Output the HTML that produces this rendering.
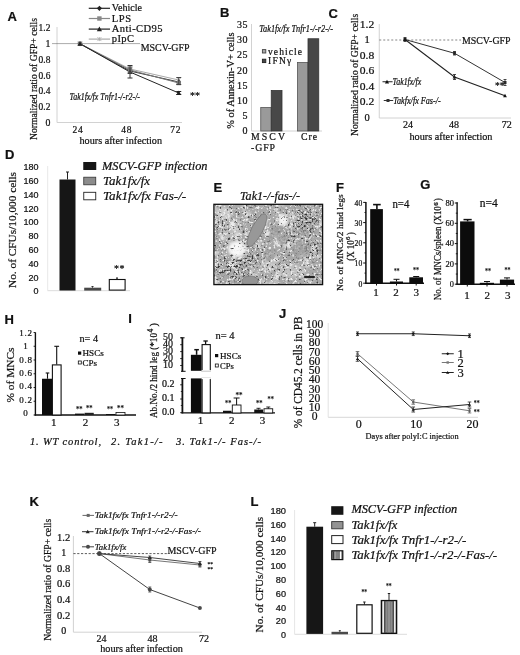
<!DOCTYPE html>
<html><head><meta charset="utf-8"><title>Figure</title>
<style>
html,body{margin:0;padding:0;background:#fff;}
svg{display:block;font-family:"Liberation Serif","DejaVu Serif",serif;fill:#111;}
svg text{fill:#111;stroke:#111;stroke-width:0.22px;}
</style></head>
<body>
<svg width="520" height="655" viewBox="0 0 520 655">
<defs>
<filter id="noise" x="0" y="0" width="100%" height="100%" color-interpolation-filters="sRGB">
<feTurbulence type="fractalNoise" baseFrequency="0.42" numOctaves="2" seed="11" result="n"/>
<feTurbulence type="fractalNoise" baseFrequency="0.1" numOctaves="2" seed="5" result="n2"/>
<feColorMatrix in="n2" type="matrix" values="0 0 0 0 0.93  0 0 0 0 0.93  0 0 0 0 0.93  0 0 3.5 0 -1.95" result="mt"/>
<feColorMatrix in="n" type="matrix" values="0 0 0 0 0.27  0 0 0 0 0.27  0 0 0 0 0.27  6 0 0 0 -3.65" result="dk"/>
<feColorMatrix in="n" type="matrix" values="0 0 0 0 0.93  0 0 0 0 0.93  0 0 0 0 0.93  0 5 0 0 -2.62" result="lt"/>
<feMerge><feMergeNode in="mt"/><feMergeNode in="lt"/><feMergeNode in="dk"/></feMerge>
</filter>
<filter id="spk" x="213" y="203" width="111" height="83" filterUnits="userSpaceOnUse" color-interpolation-filters="sRGB">
<feTurbulence type="fractalNoise" baseFrequency="0.5" numOctaves="2" seed="23" result="n"/>
<feColorMatrix in="n" type="matrix" values="0 0 0 0 0.2  0 0 0 0 0.2  0 0 0 0 0.2  6 0 0 0 -3.3" result="dk"/>
<feComposite in="dk" in2="SourceAlpha" operator="in"/>
</filter>
<clipPath id="eclip"><rect x="214" y="204.3" width="108.6" height="80.3"/></clipPath>
<filter id="blur"><feGaussianBlur stdDeviation="1.5"/></filter><filter id="blur2"><feGaussianBlur stdDeviation="0.45"/></filter>
<pattern id="stripes" width="4" height="4" patternUnits="userSpaceOnUse"><rect width="4" height="4" fill="#d0d0d0"/><rect width="2" height="4" fill="#555"/></pattern>
<pattern id="stripes2" width="3.2" height="4" patternUnits="userSpaceOnUse"><rect width="3.2" height="4" fill="#d0d0d0"/><rect width="1.6" height="4" fill="#555"/></pattern>
</defs>
<rect width="520" height="655" fill="#fff"/>
<text x="7.50" y="21.18" font-size="13" font-weight="bold" font-family='"Liberation Sans","DejaVu Sans",sans-serif' fill="#000" stroke="#000" stroke-width="0.45">A</text>
<text transform="translate(36.87,140.00) rotate(-90)" font-size="10.5" textLength="122.00" lengthAdjust="spacingAndGlyphs">Normalized ratio of GFP+ cells</text>
<text x="38.60" y="31.30" font-size="9.8" textLength="11.80" lengthAdjust="spacingAndGlyphs">1.2</text>
<text x="45.40" y="47.05" font-size="9.8">1</text>
<text x="38.60" y="62.80" font-size="9.8" textLength="11.80" lengthAdjust="spacingAndGlyphs">0.8</text>
<text x="38.60" y="78.55" font-size="9.8" textLength="11.80" lengthAdjust="spacingAndGlyphs">0.6</text>
<text x="38.60" y="94.30" font-size="9.8" textLength="11.80" lengthAdjust="spacingAndGlyphs">0.4</text>
<text x="38.60" y="110.05" font-size="9.8" textLength="11.80" lengthAdjust="spacingAndGlyphs">0.2</text>
<text x="45.40" y="125.80" font-size="9.8">0</text>
<line x1="57.00" y1="27.00" x2="57.00" y2="122.50" stroke="#d2d2d2" stroke-width="1"/>
<line x1="57.00" y1="122.50" x2="182.00" y2="122.50" stroke="#d2d2d2" stroke-width="1"/>
<line x1="52.50" y1="43.60" x2="140.00" y2="43.60" stroke="#444" stroke-width="0.9" stroke-dasharray="1,1"/>
<polyline points="80.00,43.75 130.00,69.00 178.75,80.00" fill="none" stroke="#aaa" stroke-width="1"/>
<polyline points="80.00,43.75 130.00,71.00 178.75,82.00" fill="none" stroke="#333" stroke-width="1"/>
<polyline points="80.00,43.75 130.00,70.00 178.75,83.00" fill="none" stroke="#777" stroke-width="1"/>
<polyline points="80.00,43.75 130.00,72.00 178.75,93.00" fill="none" stroke="#222" stroke-width="1"/>
<line x1="78.00" y1="41.75" x2="82.00" y2="45.75" stroke="#aaa" stroke-width="0.8"/>
<line x1="78.00" y1="45.75" x2="82.00" y2="41.75" stroke="#aaa" stroke-width="0.8"/>
<line x1="80.00" y1="41.75" x2="80.00" y2="45.75" stroke="#aaa" stroke-width="0.8"/>
<line x1="128.00" y1="67.00" x2="132.00" y2="71.00" stroke="#aaa" stroke-width="0.8"/>
<line x1="128.00" y1="71.00" x2="132.00" y2="67.00" stroke="#aaa" stroke-width="0.8"/>
<line x1="130.00" y1="67.00" x2="130.00" y2="71.00" stroke="#aaa" stroke-width="0.8"/>
<line x1="176.75" y1="78.00" x2="180.75" y2="82.00" stroke="#aaa" stroke-width="0.8"/>
<line x1="176.75" y1="82.00" x2="180.75" y2="78.00" stroke="#aaa" stroke-width="0.8"/>
<line x1="178.75" y1="78.00" x2="178.75" y2="82.00" stroke="#aaa" stroke-width="0.8"/>
<polygon points="80.00,41.35 77.60,43.75 80.00,46.15 82.40,43.75" fill="#333"/>
<polygon points="130.00,68.60 127.60,71.00 130.00,73.40 132.40,71.00" fill="#333"/>
<polygon points="178.75,79.60 176.35,82.00 178.75,84.40 181.15,82.00" fill="#333"/>
<rect x="77.80" y="41.55" width="4.40" height="4.40" fill="#777"/>
<rect x="127.80" y="67.80" width="4.40" height="4.40" fill="#777"/>
<rect x="176.55" y="80.80" width="4.40" height="4.40" fill="#777"/>
<polygon points="80.00,41.25 77.50,45.75 82.50,45.75" fill="#222"/>
<polygon points="130.00,69.50 127.50,74.00 132.50,74.00" fill="#222"/>
<polygon points="178.75,90.50 176.25,95.00 181.25,95.00" fill="#222"/>
<line x1="130.00" y1="65.50" x2="130.00" y2="78.00" stroke="#333" stroke-width="1"/>
<line x1="127.50" y1="65.50" x2="132.50" y2="65.50" stroke="#333" stroke-width="1"/>
<line x1="127.50" y1="78.00" x2="132.50" y2="78.00" stroke="#333" stroke-width="1"/>
<line x1="130.00" y1="67.00" x2="130.00" y2="73.00" stroke="#555" stroke-width="1"/>
<line x1="127.50" y1="67.00" x2="132.50" y2="67.00" stroke="#555" stroke-width="1"/>
<line x1="127.50" y1="73.00" x2="132.50" y2="73.00" stroke="#555" stroke-width="1"/>
<line x1="178.75" y1="77.50" x2="178.75" y2="84.50" stroke="#444" stroke-width="1"/>
<line x1="176.25" y1="77.50" x2="181.25" y2="77.50" stroke="#444" stroke-width="1"/>
<line x1="176.25" y1="84.50" x2="181.25" y2="84.50" stroke="#444" stroke-width="1"/>
<line x1="178.75" y1="91.50" x2="178.75" y2="94.50" stroke="#222" stroke-width="1"/>
<line x1="176.25" y1="91.50" x2="181.25" y2="91.50" stroke="#222" stroke-width="1"/>
<line x1="176.25" y1="94.50" x2="181.25" y2="94.50" stroke="#222" stroke-width="1"/>
<line x1="88.75" y1="8.30" x2="110.00" y2="8.30" stroke="#222" stroke-width="1.2"/>
<polygon points="99.40,5.70 96.80,8.30 99.40,10.90 102.00,8.30" fill="#222"/>
<text x="111.75" y="11.40" font-size="10.5" textLength="30.25" lengthAdjust="spacingAndGlyphs">Vehicle</text>
<line x1="88.75" y1="18.50" x2="110.00" y2="18.50" stroke="#888" stroke-width="1.2"/>
<rect x="97.20" y="16.30" width="4.40" height="4.40" fill="#888"/>
<text x="111.75" y="21.60" font-size="10.5" textLength="19.25" lengthAdjust="spacing">LPS</text>
<line x1="88.75" y1="29.10" x2="110.00" y2="29.10" stroke="#222" stroke-width="1.2"/>
<polygon points="99.40,26.50 96.80,31.18 102.00,31.18" fill="#222"/>
<text x="111.75" y="32.20" font-size="10.5" textLength="50.75" lengthAdjust="spacing">Anti-CD95</text>
<line x1="88.75" y1="39.10" x2="110.00" y2="39.10" stroke="#aaa" stroke-width="1.2"/>
<line x1="97.40" y1="37.10" x2="101.40" y2="41.10" stroke="#aaa" stroke-width="0.8"/>
<line x1="97.40" y1="41.10" x2="101.40" y2="37.10" stroke="#aaa" stroke-width="0.8"/>
<line x1="99.40" y1="37.10" x2="99.40" y2="41.10" stroke="#aaa" stroke-width="0.8"/>
<text x="111.75" y="42.20" font-size="10.5" textLength="22.25" lengthAdjust="spacing">pIpC</text>
<text x="140.75" y="50.60" font-size="10.5" textLength="48.75" lengthAdjust="spacingAndGlyphs">MSCV-GFP</text>
<text x="69.50" y="100.00" font-size="9.5" textLength="70.50" lengthAdjust="spacingAndGlyphs" font-style="italic">Tak1fx/fx Tnfr1-/-r2-/-</text>
<text x="190.00" y="99.00" font-size="10" textLength="10.00" lengthAdjust="spacingAndGlyphs" fill="#777" stroke="#777">**</text>
<text x="78.00" y="132.50" font-size="9.5" text-anchor="middle" letter-spacing="0.8">24</text>
<text x="126.75" y="132.50" font-size="9.5" text-anchor="middle" letter-spacing="0.8">48</text>
<text x="175.80" y="132.50" font-size="9.5" text-anchor="middle" letter-spacing="0.8">72</text>
<text x="79.50" y="144.20" font-size="10.5" textLength="82.50" lengthAdjust="spacingAndGlyphs">hours after infection</text>
<text x="220.00" y="16.68" font-size="13" font-weight="bold" font-family='"Liberation Sans","DejaVu Sans",sans-serif' fill="#000" stroke="#000" stroke-width="0.45">B</text>
<text transform="translate(234.47,128.75) rotate(-90)" font-size="10.5" textLength="96.25" lengthAdjust="spacingAndGlyphs">% of Annexin-V+ cells</text>
<text x="248.00" y="134.30" font-size="10" text-anchor="end" letter-spacing="0.5">0</text>
<text x="248.00" y="119.10" font-size="10" text-anchor="end" letter-spacing="0.5">5</text>
<text x="248.00" y="103.90" font-size="10" text-anchor="end" letter-spacing="0.5">10</text>
<text x="248.00" y="88.70" font-size="10" text-anchor="end" letter-spacing="0.5">15</text>
<text x="248.00" y="73.50" font-size="10" text-anchor="end" letter-spacing="0.5">20</text>
<text x="248.00" y="58.30" font-size="10" text-anchor="end" letter-spacing="0.5">25</text>
<text x="248.00" y="43.10" font-size="10" text-anchor="end" letter-spacing="0.5">30</text>
<text x="248.00" y="27.90" font-size="10" text-anchor="end" letter-spacing="0.5">35</text>
<line x1="251.50" y1="24.00" x2="251.50" y2="131.00" stroke="#d2d2d2" stroke-width="1"/>
<line x1="251.50" y1="131.00" x2="322.00" y2="131.00" stroke="#d2d2d2" stroke-width="1"/>
<rect x="260.75" y="107.50" width="10.50" height="23.50" fill="#9a9a9a" stroke="#555" stroke-width="0.8"/>
<rect x="271.25" y="90.50" width="10.75" height="40.50" fill="#484848" stroke="#333" stroke-width="0.8"/>
<rect x="297.50" y="62.50" width="10.50" height="68.50" fill="#9a9a9a" stroke="#555" stroke-width="0.8"/>
<rect x="308.00" y="38.75" width="10.75" height="92.25" fill="#484848" stroke="#333" stroke-width="0.8"/>
<rect x="262.40" y="49.60" width="3.40" height="3.40" fill="#a8a8a8" stroke="#444" stroke-width="0.9"/>
<rect x="262.40" y="59.20" width="3.40" height="3.40" fill="#484848" stroke="#222" stroke-width="0.9"/>
<text x="268.00" y="54.60" font-size="9.5" textLength="34.00" lengthAdjust="spacing">vehicle</text>
<text x="268.00" y="64.20" font-size="9.5" textLength="23.30" lengthAdjust="spacing">IFNγ</text>
<text x="259.20" y="31.60" font-size="10" textLength="73.80" lengthAdjust="spacingAndGlyphs" font-style="italic">Tak1fx/fx Tnfr1-/-r2-/-</text>
<text x="251.00" y="140.30" font-size="9.8" textLength="34.00" lengthAdjust="spacing">MSCV</text>
<text x="251.00" y="150.80" font-size="9.8" textLength="24.00" lengthAdjust="spacing">-GFP</text>
<text x="301.00" y="140.30" font-size="9.8" textLength="16.00" lengthAdjust="spacing">Cre</text>
<text x="328.50" y="18.18" font-size="13" font-weight="bold" font-family='"Liberation Sans","DejaVu Sans",sans-serif' fill="#000" stroke="#000" stroke-width="0.45">C</text>
<text transform="translate(358.46,136.00) rotate(-90)" font-size="10.5" textLength="122.25" lengthAdjust="spacingAndGlyphs">Normalized ratio of GFP+ cells</text>
<text x="359.75" y="27.60" font-size="10.5" textLength="14.50" lengthAdjust="spacingAndGlyphs">1.2</text>
<text x="364.40" y="43.15" font-size="10.5">1</text>
<text x="359.75" y="58.70" font-size="10.5" textLength="14.50" lengthAdjust="spacingAndGlyphs">0.8</text>
<text x="359.75" y="74.25" font-size="10.5" textLength="14.50" lengthAdjust="spacingAndGlyphs">0.6</text>
<text x="359.75" y="89.80" font-size="10.5" textLength="14.50" lengthAdjust="spacingAndGlyphs">0.4</text>
<text x="359.75" y="105.35" font-size="10.5" textLength="14.50" lengthAdjust="spacingAndGlyphs">0.2</text>
<text x="364.40" y="120.90" font-size="10.5">0</text>
<line x1="379.25" y1="24.00" x2="379.25" y2="118.00" stroke="#d2d2d2" stroke-width="1"/>
<line x1="379.25" y1="118.00" x2="511.00" y2="118.00" stroke="#d2d2d2" stroke-width="1"/>
<line x1="379.25" y1="40.00" x2="461.00" y2="40.00" stroke="#666" stroke-width="0.8" stroke-dasharray="2,2"/>
<polyline points="405.00,39.50 454.50,53.25 505.00,82.50" fill="none" stroke="#333" stroke-width="1"/>
<polyline points="405.00,39.50 454.50,77.00 505.00,95.75" fill="none" stroke="#222" stroke-width="1.1"/>
<rect x="403.50" y="38.00" width="3.00" height="3.00" fill="#333"/>
<rect x="453.00" y="51.75" width="3.00" height="3.00" fill="#333"/>
<rect x="503.50" y="81.00" width="3.00" height="3.00" fill="#333"/>
<polygon points="405.00,37.60 403.10,41.02 406.90,41.02" fill="#111"/>
<polygon points="454.50,75.10 452.60,78.52 456.40,78.52" fill="#111"/>
<polygon points="505.00,93.85 503.10,97.27 506.90,97.27" fill="#111"/>
<line x1="405.00" y1="37.50" x2="405.00" y2="41.50" stroke="#222" stroke-width="0.8"/>
<line x1="403.50" y1="37.50" x2="406.50" y2="37.50" stroke="#222" stroke-width="0.8"/>
<line x1="403.50" y1="41.50" x2="406.50" y2="41.50" stroke="#222" stroke-width="0.8"/>
<line x1="454.50" y1="51.50" x2="454.50" y2="55.00" stroke="#222" stroke-width="0.8"/>
<line x1="453.00" y1="51.50" x2="456.00" y2="51.50" stroke="#222" stroke-width="0.8"/>
<line x1="453.00" y1="55.00" x2="456.00" y2="55.00" stroke="#222" stroke-width="0.8"/>
<line x1="454.50" y1="74.50" x2="454.50" y2="79.50" stroke="#222" stroke-width="0.8"/>
<line x1="453.00" y1="74.50" x2="456.00" y2="74.50" stroke="#222" stroke-width="0.8"/>
<line x1="453.00" y1="79.50" x2="456.00" y2="79.50" stroke="#222" stroke-width="0.8"/>
<line x1="505.00" y1="79.50" x2="505.00" y2="85.50" stroke="#222" stroke-width="0.8"/>
<line x1="503.50" y1="79.50" x2="506.50" y2="79.50" stroke="#222" stroke-width="0.8"/>
<line x1="503.50" y1="85.50" x2="506.50" y2="85.50" stroke="#222" stroke-width="0.8"/>
<text x="462.00" y="43.60" font-size="10.5" textLength="48.50" lengthAdjust="spacingAndGlyphs">MSCV-GFP</text>
<text x="495.00" y="89.30" font-size="10" textLength="9.50" lengthAdjust="spacingAndGlyphs" fill="#888" stroke="#888">**</text>
<line x1="382.50" y1="81.75" x2="392.60" y2="81.75" stroke="#222" stroke-width="1"/>
<polygon points="387.00,79.65 384.90,83.43 389.10,83.43" fill="#111"/>
<text x="392.50" y="84.80" font-size="9.5" textLength="28.75" lengthAdjust="spacingAndGlyphs" font-style="italic">Tak1fx/fx</text>
<line x1="383.75" y1="100.50" x2="393.20" y2="100.50" stroke="#333" stroke-width="1"/>
<rect x="386.50" y="99.00" width="3.00" height="3.00" fill="#333"/>
<text x="393.25" y="103.50" font-size="9.5" textLength="47.50" lengthAdjust="spacingAndGlyphs" font-style="italic">Takfx/fx Fas-/-</text>
<text x="408.00" y="127.60" font-size="10" text-anchor="middle">24</text>
<text x="454.00" y="127.60" font-size="10" text-anchor="middle">48</text>
<text x="506.75" y="127.60" font-size="10" text-anchor="middle">72</text>
<text x="409.50" y="140.30" font-size="10.5" textLength="83.00" lengthAdjust="spacingAndGlyphs">hours after infection</text>
<text x="5.00" y="159.18" font-size="13" font-weight="bold" font-family='"Liberation Sans","DejaVu Sans",sans-serif' fill="#000" stroke="#000" stroke-width="0.45">D</text>
<text transform="translate(15.63,288.00) rotate(-90)" font-size="11" textLength="116.00" lengthAdjust="spacingAndGlyphs">No. of CFUs/10,000 cells</text>
<text x="33.40" y="294.35" font-size="8.8" textLength="5.00" lengthAdjust="spacingAndGlyphs" font-family='"Liberation Sans","DejaVu Sans",sans-serif'>0</text>
<text x="28.40" y="280.55" font-size="8.8" textLength="10.00" lengthAdjust="spacingAndGlyphs" font-family='"Liberation Sans","DejaVu Sans",sans-serif'>20</text>
<text x="28.40" y="266.75" font-size="8.8" textLength="10.00" lengthAdjust="spacingAndGlyphs" font-family='"Liberation Sans","DejaVu Sans",sans-serif'>40</text>
<text x="28.40" y="252.95" font-size="8.8" textLength="10.00" lengthAdjust="spacingAndGlyphs" font-family='"Liberation Sans","DejaVu Sans",sans-serif'>60</text>
<text x="28.40" y="239.15" font-size="8.8" textLength="10.00" lengthAdjust="spacingAndGlyphs" font-family='"Liberation Sans","DejaVu Sans",sans-serif'>80</text>
<text x="23.40" y="225.35" font-size="8.8" textLength="15.00" lengthAdjust="spacingAndGlyphs" font-family='"Liberation Sans","DejaVu Sans",sans-serif'>100</text>
<text x="23.40" y="211.55" font-size="8.8" textLength="15.00" lengthAdjust="spacingAndGlyphs" font-family='"Liberation Sans","DejaVu Sans",sans-serif'>120</text>
<text x="23.40" y="197.75" font-size="8.8" textLength="15.00" lengthAdjust="spacingAndGlyphs" font-family='"Liberation Sans","DejaVu Sans",sans-serif'>140</text>
<text x="23.40" y="183.95" font-size="8.8" textLength="15.00" lengthAdjust="spacingAndGlyphs" font-family='"Liberation Sans","DejaVu Sans",sans-serif'>160</text>
<text x="23.40" y="170.15" font-size="8.8" textLength="15.00" lengthAdjust="spacingAndGlyphs" font-family='"Liberation Sans","DejaVu Sans",sans-serif'>180</text>
<line x1="47.50" y1="290.70" x2="130.00" y2="290.70" stroke="#dcdcdc" stroke-width="1"/>
<line x1="47.70" y1="166.00" x2="47.70" y2="290.70" stroke="#e8e8e8" stroke-width="1"/>
<rect x="59.50" y="179.50" width="16.00" height="111.00" fill="#161616"/>
<line x1="67.50" y1="172.00" x2="67.50" y2="179.50" stroke="#222" stroke-width="1"/>
<line x1="66.00" y1="172.00" x2="69.00" y2="172.00" stroke="#222" stroke-width="1"/>
<rect x="84.20" y="287.70" width="17.00" height="2.90" fill="#484848"/>
<line x1="92.50" y1="286.50" x2="92.50" y2="287.70" stroke="#333" stroke-width="1"/>
<line x1="91.50" y1="286.50" x2="93.50" y2="286.50" stroke="#333" stroke-width="1"/>
<rect x="109.30" y="279.50" width="15.80" height="10.60" fill="#fff" stroke="#111" stroke-width="1.1"/>
<line x1="117.00" y1="278.00" x2="117.00" y2="279.50" stroke="#222" stroke-width="1"/>
<line x1="116.00" y1="278.00" x2="118.00" y2="278.00" stroke="#222" stroke-width="1"/>
<text x="114.00" y="271.50" font-size="10" textLength="10.60" lengthAdjust="spacing" fill="#777" stroke="#777">**</text>
<rect x="83.25" y="162.00" width="13.00" height="8.00" fill="#161616"/>
<rect x="83.75" y="177.20" width="12.00" height="7.60" fill="#8c8c8c" stroke="#333" stroke-width="0.8"/>
<rect x="83.75" y="192.30" width="12.00" height="7.50" fill="#fff" stroke="#222" stroke-width="0.9"/>
<text x="102.00" y="170.00" font-size="12.2" textLength="105.50" lengthAdjust="spacingAndGlyphs" font-style="italic">MSCV-GFP infection</text>
<text x="103.00" y="185.00" font-size="12.2" textLength="47.00" lengthAdjust="spacingAndGlyphs" font-style="italic">Tak1fx/fx</text>
<text x="103.00" y="200.00" font-size="12.2" textLength="83.25" lengthAdjust="spacingAndGlyphs" font-style="italic">Tak1fx/fx Fas-/-</text>
<text x="213.50" y="192.18" font-size="13" font-weight="bold" font-family='"Liberation Sans","DejaVu Sans",sans-serif' fill="#000" stroke="#000" stroke-width="0.45">E</text>
<text x="240.00" y="200.00" font-size="12.5" textLength="60.00" lengthAdjust="spacingAndGlyphs" font-style="italic">Tak1-/-fas-/-</text>
<g clip-path="url(#eclip)"><rect x="213" y="203" width="111" height="83" fill="#a8a8a8"/><g filter="url(#blur)"><ellipse cx="237" cy="249" rx="9" ry="8" fill="#f8f8f8"/><ellipse cx="224" cy="214" rx="8" ry="7" fill="#cccccc"/><ellipse cx="283" cy="220" rx="5" ry="6" fill="#f4f4f4"/><ellipse cx="232" cy="232" rx="10" ry="8" fill="#bcbcbc"/><ellipse cx="292" cy="271" rx="14" ry="7" fill="#c0c0c0"/><ellipse cx="268" cy="266" rx="8" ry="6" fill="#c4c4c4"/></g><rect x="213" y="203" width="111" height="83" fill="#fff" filter="url(#noise)"/><g filter="url(#spk)"><g filter="url(#blur)"><path d="M215 262 Q236 262 258 252 L262 258 Q240 272 216 276 Z" fill="#000"/><ellipse cx="306" cy="222" rx="12" ry="12" fill="#000"/><ellipse cx="290" cy="238" rx="8" ry="6" fill="#000"/><ellipse cx="312" cy="250" rx="7" ry="9" fill="#000"/><ellipse cx="240" cy="276" rx="10" ry="5" fill="#000"/><ellipse cx="222" cy="226" rx="5" ry="8" fill="#000"/></g></g><g filter="url(#blur2)"><path d="M262 214 Q267 213 267 218 Q265 232 252 246 Q247 248 247 242 Q250 226 262 214 Z" fill="#989898" stroke="#6e6e6e" stroke-width="0.7"/><ellipse cx="250" cy="281" rx="8" ry="5" fill="#949494" stroke="#707070" stroke-width="0.6"/><g opacity="0.6"><path d="M270 230 Q278 224 285 227 L282 232 Q274 236 268 245 Z" fill="#9a9a9a"/><path d="M292 246 Q304 240 311 247 Q306 260 297 260 Q292 254 292 246 Z" fill="#9c9c9c"/><path d="M264 251 Q272 246 279 251 Q275 259 267 261 Z" fill="#9e9e9e"/><path d="M276 236 Q284 232 290 238 Q284 246 278 244 Z" fill="#a0a0a0"/><ellipse cx="303" cy="232" rx="6" ry="4" fill="#9e9e9e"/></g></g></g>
<rect x="213.90" y="204.30" width="108.70" height="80.30" fill="none" stroke="#111" stroke-width="1.3"/>
<rect x="304.20" y="276.00" width="10.60" height="2.00" fill="#222"/>
<text x="336.00" y="191.98" font-size="13" font-weight="bold" font-family='"Liberation Sans","DejaVu Sans",sans-serif' fill="#000" stroke="#000" stroke-width="0.45">F</text>
<text transform="translate(342.57,291.00) rotate(-90)" font-size="9" textLength="96.70" lengthAdjust="spacingAndGlyphs">No. of MNCs/2 hind legs</text>
<text transform="translate(353.6,260.8) rotate(-90)" font-size="9.5" textLength="20.5" lengthAdjust="spacingAndGlyphs">(X 10</text>
<text transform="translate(349.6,240) rotate(-90)" font-size="6.8">6</text>
<text transform="translate(353.6,235.2) rotate(-90)" font-size="9.5">)</text>
<text x="358.40" y="286.60" font-size="7.7">0</text>
<line x1="363.20" y1="283.20" x2="366.00" y2="283.20" stroke="#111" stroke-width="1"/>
<line x1="364.50" y1="273.10" x2="366.00" y2="273.10" stroke="#111" stroke-width="0.9"/>
<text x="354.60" y="266.40" font-size="7.7" textLength="7.60" lengthAdjust="spacingAndGlyphs">10</text>
<line x1="363.20" y1="263.00" x2="366.00" y2="263.00" stroke="#111" stroke-width="1"/>
<line x1="364.50" y1="252.90" x2="366.00" y2="252.90" stroke="#111" stroke-width="0.9"/>
<text x="354.60" y="246.20" font-size="7.7" textLength="7.60" lengthAdjust="spacingAndGlyphs">20</text>
<line x1="363.20" y1="242.80" x2="366.00" y2="242.80" stroke="#111" stroke-width="1"/>
<line x1="364.50" y1="232.70" x2="366.00" y2="232.70" stroke="#111" stroke-width="0.9"/>
<text x="354.60" y="226.00" font-size="7.7" textLength="7.60" lengthAdjust="spacingAndGlyphs">30</text>
<line x1="363.20" y1="222.60" x2="366.00" y2="222.60" stroke="#111" stroke-width="1"/>
<line x1="364.50" y1="212.50" x2="366.00" y2="212.50" stroke="#111" stroke-width="0.9"/>
<text x="354.60" y="205.80" font-size="7.7" textLength="7.60" lengthAdjust="spacingAndGlyphs">40</text>
<line x1="363.20" y1="202.40" x2="366.00" y2="202.40" stroke="#111" stroke-width="1"/>
<line x1="365.90" y1="201.90" x2="365.90" y2="283.90" stroke="#111" stroke-width="1.5"/>
<line x1="365.20" y1="283.30" x2="424.00" y2="283.30" stroke="#111" stroke-width="1.4"/>
<rect x="370.20" y="209.10" width="12.70" height="74.10" fill="#0c0c0c"/>
<line x1="376.90" y1="204.60" x2="376.90" y2="209.10" stroke="#111" stroke-width="1.6"/>
<line x1="373.10" y1="204.60" x2="380.70" y2="204.60" stroke="#111" stroke-width="1.6"/>
<rect x="389.90" y="281.50" width="13.10" height="1.70" fill="#0c0c0c"/>
<line x1="396.50" y1="279.30" x2="396.50" y2="281.50" stroke="#111" stroke-width="1"/>
<line x1="393.50" y1="279.30" x2="399.50" y2="279.30" stroke="#111" stroke-width="1"/>
<rect x="409.30" y="277.30" width="13.70" height="5.90" fill="#0c0c0c"/>
<line x1="416.20" y1="276.50" x2="416.20" y2="277.30" stroke="#111" stroke-width="1"/>
<line x1="413.20" y1="276.50" x2="419.20" y2="276.50" stroke="#111" stroke-width="1"/>
<line x1="376.50" y1="283.20" x2="376.50" y2="285.50" stroke="#111" stroke-width="1"/>
<line x1="396.50" y1="283.20" x2="396.50" y2="285.50" stroke="#111" stroke-width="1"/>
<line x1="416.20" y1="283.20" x2="416.20" y2="285.50" stroke="#111" stroke-width="1"/>
<text x="376.10" y="296.40" font-size="11" text-anchor="middle">1</text>
<text x="396.00" y="296.40" font-size="11" text-anchor="middle">2</text>
<text x="416.30" y="296.40" font-size="11" text-anchor="middle">3</text>
<text x="392.40" y="207.50" font-size="11.5" textLength="16.90" lengthAdjust="spacingAndGlyphs">n=4</text>
<text x="394.00" y="274.32" font-size="8.5" textLength="5.40" lengthAdjust="spacingAndGlyphs" fill="#777" stroke="#777">**</text>
<text x="413.00" y="273.22" font-size="8.5" textLength="6.00" lengthAdjust="spacingAndGlyphs" fill="#777" stroke="#777">**</text>
<text x="420.30" y="188.68" font-size="13" font-weight="bold" font-family='"Liberation Sans","DejaVu Sans",sans-serif' fill="#000" stroke="#000" stroke-width="0.45">G</text>
<text transform="translate(441.4,300.2) rotate(-90)" font-size="9.5" textLength="94" lengthAdjust="spacingAndGlyphs">No. of MNCs/spleen (X10</text>
<text transform="translate(437.6,205.8) rotate(-90)" font-size="7" font-weight="bold">6</text>
<text transform="translate(441.4,201.2) rotate(-90)" font-size="9.5">)</text>
<text x="449.70" y="287.00" font-size="8.3">0</text>
<line x1="454.80" y1="284.20" x2="457.60" y2="284.20" stroke="#111" stroke-width="1"/>
<line x1="455.80" y1="274.05" x2="457.60" y2="274.05" stroke="#111" stroke-width="0.9"/>
<text x="445.40" y="266.70" font-size="8.3" textLength="8.50" lengthAdjust="spacingAndGlyphs">20</text>
<line x1="454.80" y1="263.90" x2="457.60" y2="263.90" stroke="#111" stroke-width="1"/>
<line x1="455.80" y1="253.75" x2="457.60" y2="253.75" stroke="#111" stroke-width="0.9"/>
<text x="445.40" y="246.40" font-size="8.3" textLength="8.50" lengthAdjust="spacingAndGlyphs">40</text>
<line x1="454.80" y1="243.60" x2="457.60" y2="243.60" stroke="#111" stroke-width="1"/>
<line x1="455.80" y1="233.45" x2="457.60" y2="233.45" stroke="#111" stroke-width="0.9"/>
<text x="445.40" y="226.10" font-size="8.3" textLength="8.50" lengthAdjust="spacingAndGlyphs">60</text>
<line x1="454.80" y1="223.30" x2="457.60" y2="223.30" stroke="#111" stroke-width="1"/>
<line x1="455.80" y1="213.15" x2="457.60" y2="213.15" stroke="#111" stroke-width="0.9"/>
<text x="445.40" y="205.80" font-size="8.3" textLength="8.50" lengthAdjust="spacingAndGlyphs">80</text>
<line x1="454.80" y1="203.00" x2="457.60" y2="203.00" stroke="#111" stroke-width="1"/>
<line x1="457.10" y1="202.20" x2="457.10" y2="284.90" stroke="#111" stroke-width="1.4"/>
<line x1="456.40" y1="284.30" x2="515.00" y2="284.30" stroke="#111" stroke-width="1.4"/>
<rect x="460.10" y="221.40" width="14.40" height="62.80" fill="#0c0c0c"/>
<line x1="467.60" y1="219.60" x2="467.60" y2="221.40" stroke="#111" stroke-width="1.5"/>
<line x1="463.50" y1="219.60" x2="471.70" y2="219.60" stroke="#111" stroke-width="1.5"/>
<rect x="479.80" y="282.80" width="14.20" height="1.40" fill="#0c0c0c"/>
<line x1="487.00" y1="281.50" x2="487.00" y2="282.80" stroke="#111" stroke-width="1"/>
<line x1="484.00" y1="281.50" x2="490.00" y2="281.50" stroke="#111" stroke-width="1"/>
<rect x="499.90" y="279.60" width="14.20" height="4.60" fill="#0c0c0c"/>
<line x1="507.00" y1="277.90" x2="507.00" y2="279.60" stroke="#111" stroke-width="1"/>
<line x1="504.00" y1="277.90" x2="510.00" y2="277.90" stroke="#111" stroke-width="1"/>
<line x1="467.30" y1="284.20" x2="467.30" y2="286.50" stroke="#111" stroke-width="1"/>
<line x1="487.00" y1="284.20" x2="487.00" y2="286.50" stroke="#111" stroke-width="1"/>
<line x1="507.00" y1="284.20" x2="507.00" y2="286.50" stroke="#111" stroke-width="1"/>
<text x="467.10" y="298.50" font-size="11" text-anchor="middle">1</text>
<text x="487.20" y="298.50" font-size="11" text-anchor="middle">2</text>
<text x="507.70" y="298.50" font-size="11" text-anchor="middle">3</text>
<text x="479.80" y="207.20" font-size="11.5" textLength="18.00" lengthAdjust="spacingAndGlyphs">n=4</text>
<text x="485.00" y="274.32" font-size="8.5" textLength="6.00" lengthAdjust="spacingAndGlyphs" fill="#777" stroke="#777">**</text>
<text x="504.60" y="272.82" font-size="8.5" textLength="5.90" lengthAdjust="spacingAndGlyphs" fill="#777" stroke="#777">**</text>
<text x="4.50" y="323.88" font-size="13" font-weight="bold" font-family='"Liberation Sans","DejaVu Sans",sans-serif' fill="#000" stroke="#000" stroke-width="0.45">H</text>
<text transform="translate(13.63,402.50) rotate(-90)" font-size="11" textLength="55.00" lengthAdjust="spacingAndGlyphs">% of MNCs</text>
<text x="19.20" y="336.10" font-size="9" textLength="12.70" lengthAdjust="spacing">1.2</text>
<line x1="33.60" y1="332.50" x2="35.30" y2="332.50" stroke="#111" stroke-width="0.9"/>
<text x="23.20" y="349.40" font-size="9">1</text>
<line x1="33.60" y1="346.25" x2="35.30" y2="346.25" stroke="#111" stroke-width="0.9"/>
<text x="19.20" y="362.70" font-size="9" textLength="12.70" lengthAdjust="spacing">0.8</text>
<line x1="33.60" y1="360.00" x2="35.30" y2="360.00" stroke="#111" stroke-width="0.9"/>
<text x="19.20" y="376.00" font-size="9" textLength="12.70" lengthAdjust="spacing">0.6</text>
<line x1="33.60" y1="373.75" x2="35.30" y2="373.75" stroke="#111" stroke-width="0.9"/>
<text x="19.20" y="389.30" font-size="9" textLength="12.70" lengthAdjust="spacing">0.4</text>
<line x1="33.60" y1="387.50" x2="35.30" y2="387.50" stroke="#111" stroke-width="0.9"/>
<text x="19.20" y="402.60" font-size="9" textLength="12.70" lengthAdjust="spacing">0.2</text>
<line x1="33.60" y1="401.25" x2="35.30" y2="401.25" stroke="#111" stroke-width="0.9"/>
<text x="23.20" y="415.90" font-size="9">0</text>
<line x1="33.60" y1="415.00" x2="35.30" y2="415.00" stroke="#111" stroke-width="0.9"/>
<line x1="35.40" y1="332.30" x2="35.40" y2="415.60" stroke="#111" stroke-width="1.4"/>
<line x1="34.70" y1="415.00" x2="136.00" y2="415.00" stroke="#111" stroke-width="1.3"/>
<rect x="42.00" y="378.75" width="10.00" height="36.25" fill="#0c0c0c"/>
<line x1="47.50" y1="373.00" x2="47.50" y2="378.75" stroke="#111" stroke-width="1.1"/>
<line x1="45.70" y1="373.00" x2="49.30" y2="373.00" stroke="#111" stroke-width="1.1"/>
<rect x="52.40" y="364.90" width="8.70" height="50.10" fill="#fff" stroke="#111" stroke-width="1.1"/>
<line x1="56.70" y1="346.30" x2="56.70" y2="364.50" stroke="#111" stroke-width="1.1"/>
<line x1="54.30" y1="346.30" x2="59.10" y2="346.30" stroke="#111" stroke-width="1.1"/>
<rect x="75.00" y="413.60" width="9.00" height="1.40" fill="#111"/>
<rect x="84.50" y="412.80" width="9.25" height="2.20" fill="#222"/>
<rect x="106.00" y="414.00" width="9.00" height="1.00" fill="#111"/>
<rect x="116.00" y="412.50" width="9.00" height="2.50" fill="#fff" stroke="#111" stroke-width="0.8"/>
<text x="76.00" y="411.82" font-size="8.5" textLength="6.50" lengthAdjust="spacingAndGlyphs" fill="#777" stroke="#777">**</text>
<text x="86.00" y="411.12" font-size="8.5" textLength="6.50" lengthAdjust="spacingAndGlyphs" fill="#777" stroke="#777">**</text>
<text x="107.00" y="412.32" font-size="8.5" textLength="6.00" lengthAdjust="spacingAndGlyphs" fill="#777" stroke="#777">**</text>
<text x="117.00" y="410.82" font-size="8.5" textLength="6.75" lengthAdjust="spacingAndGlyphs" fill="#777" stroke="#777">**</text>
<text x="53.75" y="426.20" font-size="11" text-anchor="middle">1</text>
<text x="85.50" y="426.20" font-size="11" text-anchor="middle">2</text>
<text x="116.75" y="426.20" font-size="11" text-anchor="middle">3</text>
<text x="79.50" y="341.60" font-size="10.5" textLength="18.50" lengthAdjust="spacingAndGlyphs">n= 4</text>
<rect x="78.00" y="351.50" width="3.25" height="3.20" fill="#0c0c0c"/>
<text x="82.50" y="356.00" font-size="8.5" textLength="21.25" lengthAdjust="spacingAndGlyphs">HSCs</text>
<rect x="78.30" y="361.00" width="3.00" height="3.00" fill="#fff" stroke="#111" stroke-width="0.8"/>
<text x="82.50" y="365.50" font-size="8.5" textLength="14.50" lengthAdjust="spacingAndGlyphs">CPs</text>
<text x="128.20" y="322.88" font-size="13" font-weight="bold" font-family='"Liberation Sans","DejaVu Sans",sans-serif' fill="#000" stroke="#000" stroke-width="0.45">I</text>
<text transform="translate(156.7,418) rotate(-90)" font-size="10.5" textLength="85" lengthAdjust="spacingAndGlyphs">Ab.No./2 hind leg (*10</text>
<text transform="translate(152.8,332.4) rotate(-90)" font-size="7.5">4</text>
<text transform="translate(156.7,326.6) rotate(-90)" font-size="10.5">)</text>
<text x="163.00" y="340.30" font-size="10.5" textLength="10.00" lengthAdjust="spacingAndGlyphs">50</text>
<line x1="180.20" y1="337.80" x2="182.00" y2="337.80" stroke="#111" stroke-width="0.9"/>
<text x="163.00" y="347.20" font-size="10.5" textLength="10.00" lengthAdjust="spacingAndGlyphs">40</text>
<line x1="180.20" y1="344.70" x2="182.00" y2="344.70" stroke="#111" stroke-width="0.9"/>
<text x="163.00" y="354.10" font-size="10.5" textLength="10.00" lengthAdjust="spacingAndGlyphs">30</text>
<line x1="180.20" y1="351.60" x2="182.00" y2="351.60" stroke="#111" stroke-width="0.9"/>
<text x="163.00" y="361.10" font-size="10.5" textLength="10.00" lengthAdjust="spacingAndGlyphs">20</text>
<line x1="180.20" y1="358.60" x2="182.00" y2="358.60" stroke="#111" stroke-width="0.9"/>
<text x="163.00" y="368.00" font-size="10.5" textLength="10.00" lengthAdjust="spacingAndGlyphs">10</text>
<line x1="180.20" y1="365.50" x2="182.00" y2="365.50" stroke="#111" stroke-width="0.9"/>
<text x="161.90" y="386.90" font-size="9.5" textLength="12.50" lengthAdjust="spacingAndGlyphs">0.2</text>
<line x1="180.20" y1="384.80" x2="182.00" y2="384.80" stroke="#111" stroke-width="0.9"/>
<text x="161.90" y="401.10" font-size="9.5" textLength="12.50" lengthAdjust="spacingAndGlyphs">0.1</text>
<line x1="180.20" y1="399.00" x2="182.00" y2="399.00" stroke="#111" stroke-width="0.9"/>
<text x="161.90" y="414.80" font-size="9.5" textLength="12.50" lengthAdjust="spacingAndGlyphs">0.0</text>
<line x1="180.20" y1="412.70" x2="182.00" y2="412.70" stroke="#111" stroke-width="0.9"/>
<line x1="180.80" y1="391.50" x2="182.00" y2="391.50" stroke="#111" stroke-width="0.8"/>
<line x1="180.80" y1="405.50" x2="182.00" y2="405.50" stroke="#111" stroke-width="0.8"/>
<line x1="182.40" y1="337.50" x2="182.40" y2="371.60" stroke="#111" stroke-width="1.8"/>
<line x1="182.40" y1="378.10" x2="182.40" y2="413.40" stroke="#111" stroke-width="1.8"/>
<line x1="180.60" y1="337.80" x2="184.60" y2="337.80" stroke="#111" stroke-width="1"/>
<line x1="181.00" y1="371.30" x2="185.60" y2="371.30" stroke="#111" stroke-width="1"/>
<line x1="181.00" y1="378.50" x2="185.60" y2="378.50" stroke="#111" stroke-width="1"/>
<line x1="181.50" y1="412.90" x2="275.00" y2="412.90" stroke="#111" stroke-width="1.4"/>
<rect x="190.90" y="354.80" width="10.70" height="16.00" fill="#0c0c0c"/>
<rect x="190.90" y="378.40" width="10.70" height="34.50" fill="#0c0c0c"/>
<line x1="196.60" y1="349.70" x2="196.60" y2="354.80" stroke="#111" stroke-width="1.5"/>
<line x1="194.30" y1="349.70" x2="198.90" y2="349.70" stroke="#111" stroke-width="1.5"/>
<rect x="202.10" y="344.60" width="8.20" height="26.20" fill="#fff" stroke="#111" stroke-width="1.1"/>
<rect x="202.10" y="378.40" width="8.20" height="34.50" fill="#fff" stroke="#111" stroke-width="1.1"/>
<line x1="205.60" y1="341.00" x2="205.60" y2="344.10" stroke="#111" stroke-width="1.3"/>
<line x1="203.40" y1="341.00" x2="207.80" y2="341.00" stroke="#111" stroke-width="1.3"/>
<line x1="201.60" y1="370.80" x2="210.90" y2="370.80" stroke="#fff" stroke-width="1.4"/>
<line x1="201.60" y1="378.40" x2="210.90" y2="378.40" stroke="#fff" stroke-width="1.4"/>
<rect x="223.00" y="410.75" width="8.50" height="2.25" fill="#111"/>
<rect x="232.30" y="405.00" width="8.70" height="8.00" fill="#fff" stroke="#111" stroke-width="0.9"/>
<line x1="236.60" y1="398.00" x2="236.60" y2="405.00" stroke="#111" stroke-width="1"/>
<line x1="233.60" y1="398.00" x2="239.60" y2="398.00" stroke="#111" stroke-width="1"/>
<rect x="254.25" y="409.50" width="8.75" height="3.50" fill="#111"/>
<line x1="258.50" y1="408.30" x2="258.50" y2="409.50" stroke="#111" stroke-width="0.9"/>
<line x1="256.50" y1="408.30" x2="260.50" y2="408.30" stroke="#111" stroke-width="0.9"/>
<rect x="264.00" y="408.75" width="8.70" height="4.25" fill="#fff" stroke="#111" stroke-width="0.9"/>
<line x1="268.30" y1="407.00" x2="268.30" y2="408.75" stroke="#111" stroke-width="0.9"/>
<line x1="266.30" y1="407.00" x2="270.30" y2="407.00" stroke="#111" stroke-width="0.9"/>
<text x="225.00" y="405.57" font-size="8.5" textLength="6.25" lengthAdjust="spacingAndGlyphs" fill="#777" stroke="#777">**</text>
<text x="235.50" y="397.57" font-size="8.5" textLength="7.00" lengthAdjust="spacingAndGlyphs" fill="#777" stroke="#777">**</text>
<text x="256.00" y="405.57" font-size="8.5" textLength="6.50" lengthAdjust="spacingAndGlyphs" fill="#777" stroke="#777">**</text>
<text x="267.50" y="402.07" font-size="8.5" textLength="6.25" lengthAdjust="spacingAndGlyphs" fill="#777" stroke="#777">**</text>
<text x="200.50" y="424.20" font-size="11" text-anchor="middle">1</text>
<text x="231.75" y="424.20" font-size="11" text-anchor="middle">2</text>
<text x="262.50" y="424.20" font-size="11" text-anchor="middle">3</text>
<text x="215.50" y="338.60" font-size="10.5" textLength="19.00" lengthAdjust="spacingAndGlyphs">n= 4</text>
<rect x="215.00" y="354.00" width="3.25" height="3.20" fill="#0c0c0c"/>
<text x="220.00" y="358.50" font-size="8.5" textLength="21.25" lengthAdjust="spacingAndGlyphs">HSCs</text>
<rect x="215.30" y="364.00" width="3.00" height="3.00" fill="#fff" stroke="#111" stroke-width="0.8"/>
<text x="220.00" y="368.50" font-size="8.5" textLength="13.75" lengthAdjust="spacingAndGlyphs">CPs</text>
<text x="30.00" y="445.00" font-size="10.5" textLength="71.00" lengthAdjust="spacing" font-style="italic">1. WT control,</text>
<text x="111.00" y="445.00" font-size="10.5" textLength="51.50" lengthAdjust="spacing" font-style="italic">2.  Tak1-/-</text>
<text x="176.00" y="445.00" font-size="10.5" textLength="85.00" lengthAdjust="spacing" font-style="italic">3.  Tak1-/- Fas-/-</text>
<text x="279.00" y="317.88" font-size="13" font-weight="bold" font-family='"Liberation Sans","DejaVu Sans",sans-serif' fill="#000" stroke="#000" stroke-width="0.45">J</text>
<text transform="translate(302.40,428.20) rotate(-90)" font-size="11.5" textLength="111.80" lengthAdjust="spacingAndGlyphs">% of CD45.2  cells in PB</text>
<text x="311.70" y="420.20" font-size="12" textLength="5.80" lengthAdjust="spacingAndGlyphs">0</text>
<text x="308.80" y="410.98" font-size="12" textLength="11.60" lengthAdjust="spacingAndGlyphs">10</text>
<text x="308.80" y="401.76" font-size="12" textLength="11.60" lengthAdjust="spacingAndGlyphs">20</text>
<text x="308.80" y="392.54" font-size="12" textLength="11.60" lengthAdjust="spacingAndGlyphs">30</text>
<text x="308.80" y="383.32" font-size="12" textLength="11.60" lengthAdjust="spacingAndGlyphs">40</text>
<text x="308.80" y="374.10" font-size="12" textLength="11.60" lengthAdjust="spacingAndGlyphs">50</text>
<text x="308.80" y="364.88" font-size="12" textLength="11.60" lengthAdjust="spacingAndGlyphs">60</text>
<text x="308.80" y="355.66" font-size="12" textLength="11.60" lengthAdjust="spacingAndGlyphs">70</text>
<text x="308.80" y="346.44" font-size="12" textLength="11.60" lengthAdjust="spacingAndGlyphs">80</text>
<text x="308.80" y="337.22" font-size="12" textLength="11.60" lengthAdjust="spacingAndGlyphs">90</text>
<text x="306.00" y="328.00" font-size="12" textLength="17.20" lengthAdjust="spacingAndGlyphs">100</text>
<line x1="328.20" y1="323.00" x2="328.20" y2="417.30" stroke="#e2e2e2" stroke-width="1"/>
<line x1="328.20" y1="417.30" x2="478.00" y2="417.30" stroke="#d8d8d8" stroke-width="1"/>
<polyline points="357.50,333.75 413.25,333.75 469.50,335.75" fill="none" stroke="#222" stroke-width="1"/>
<polyline points="357.50,353.75 413.25,402.00 469.50,410.75" fill="none" stroke="#666" stroke-width="0.9"/>
<polyline points="357.50,358.75 413.25,409.50 469.50,404.50" fill="none" stroke="#222" stroke-width="1"/>
<polygon points="357.50,332.15 355.90,333.75 357.50,335.35 359.10,333.75" fill="#111"/>
<line x1="357.50" y1="331.95" x2="357.50" y2="335.55" stroke="#222" stroke-width="0.8"/>
<line x1="356.00" y1="331.95" x2="359.00" y2="331.95" stroke="#222" stroke-width="0.8"/>
<line x1="356.00" y1="335.55" x2="359.00" y2="335.55" stroke="#222" stroke-width="0.8"/>
<polygon points="413.25,332.15 411.65,333.75 413.25,335.35 414.85,333.75" fill="#111"/>
<line x1="413.25" y1="331.95" x2="413.25" y2="335.55" stroke="#222" stroke-width="0.8"/>
<line x1="411.75" y1="331.95" x2="414.75" y2="331.95" stroke="#222" stroke-width="0.8"/>
<line x1="411.75" y1="335.55" x2="414.75" y2="335.55" stroke="#222" stroke-width="0.8"/>
<polygon points="469.50,334.15 467.90,335.75 469.50,337.35 471.10,335.75" fill="#111"/>
<line x1="469.50" y1="333.95" x2="469.50" y2="337.55" stroke="#222" stroke-width="0.8"/>
<line x1="468.00" y1="333.95" x2="471.00" y2="333.95" stroke="#222" stroke-width="0.8"/>
<line x1="468.00" y1="337.55" x2="471.00" y2="337.55" stroke="#222" stroke-width="0.8"/>
<rect x="356.30" y="352.55" width="2.40" height="2.40" fill="#777"/>
<line x1="357.50" y1="351.55" x2="357.50" y2="355.95" stroke="#555" stroke-width="0.8"/>
<line x1="355.70" y1="351.55" x2="359.30" y2="351.55" stroke="#555" stroke-width="0.8"/>
<line x1="355.70" y1="355.95" x2="359.30" y2="355.95" stroke="#555" stroke-width="0.8"/>
<rect x="412.05" y="400.80" width="2.40" height="2.40" fill="#777"/>
<line x1="413.25" y1="399.80" x2="413.25" y2="404.20" stroke="#555" stroke-width="0.8"/>
<line x1="411.45" y1="399.80" x2="415.05" y2="399.80" stroke="#555" stroke-width="0.8"/>
<line x1="411.45" y1="404.20" x2="415.05" y2="404.20" stroke="#555" stroke-width="0.8"/>
<rect x="468.30" y="409.55" width="2.40" height="2.40" fill="#777"/>
<line x1="469.50" y1="408.55" x2="469.50" y2="412.95" stroke="#555" stroke-width="0.8"/>
<line x1="467.70" y1="408.55" x2="471.30" y2="408.55" stroke="#555" stroke-width="0.8"/>
<line x1="467.70" y1="412.95" x2="471.30" y2="412.95" stroke="#555" stroke-width="0.8"/>
<polygon points="357.50,357.15 355.90,360.03 359.10,360.03" fill="#111"/>
<line x1="357.50" y1="356.25" x2="357.50" y2="361.25" stroke="#222" stroke-width="0.8"/>
<line x1="355.70" y1="356.25" x2="359.30" y2="356.25" stroke="#222" stroke-width="0.8"/>
<line x1="355.70" y1="361.25" x2="359.30" y2="361.25" stroke="#222" stroke-width="0.8"/>
<polygon points="413.25,407.90 411.65,410.78 414.85,410.78" fill="#111"/>
<line x1="413.25" y1="407.00" x2="413.25" y2="412.00" stroke="#222" stroke-width="0.8"/>
<line x1="411.45" y1="407.00" x2="415.05" y2="407.00" stroke="#222" stroke-width="0.8"/>
<line x1="411.45" y1="412.00" x2="415.05" y2="412.00" stroke="#222" stroke-width="0.8"/>
<polygon points="469.50,402.90 467.90,405.78 471.10,405.78" fill="#111"/>
<line x1="469.50" y1="402.00" x2="469.50" y2="407.00" stroke="#222" stroke-width="0.8"/>
<line x1="467.70" y1="402.00" x2="471.30" y2="402.00" stroke="#222" stroke-width="0.8"/>
<line x1="467.70" y1="407.00" x2="471.30" y2="407.00" stroke="#222" stroke-width="0.8"/>
<line x1="441.75" y1="353.75" x2="453.75" y2="353.75" stroke="#222" stroke-width="1"/>
<polygon points="447.70,352.15 446.10,353.75 447.70,355.35 449.30,353.75" fill="#111"/>
<text x="457.50" y="357.75" font-size="12.5">1</text>
<line x1="441.75" y1="362.50" x2="453.75" y2="362.50" stroke="#777" stroke-width="1"/>
<rect x="446.50" y="361.30" width="2.40" height="2.40" fill="#777"/>
<text x="457.50" y="366.50" font-size="12.5">2</text>
<line x1="441.75" y1="372.50" x2="453.75" y2="372.50" stroke="#222" stroke-width="1"/>
<polygon points="447.70,370.90 446.10,373.78 449.30,373.78" fill="#111"/>
<text x="457.50" y="376.50" font-size="12.5">3</text>
<text x="473.75" y="406.32" font-size="8.5" textLength="5.75" lengthAdjust="spacingAndGlyphs" fill="#777" stroke="#777">**</text>
<text x="473.75" y="414.57" font-size="8.5" textLength="5.75" lengthAdjust="spacingAndGlyphs" fill="#777" stroke="#777">**</text>
<text x="358.75" y="428.30" font-size="12" text-anchor="middle">0</text>
<text x="416.25" y="428.30" font-size="12" text-anchor="middle">10</text>
<text x="472.50" y="428.30" font-size="12" text-anchor="middle">20</text>
<text x="365.60" y="439.20" font-size="9" textLength="93.00" lengthAdjust="spacingAndGlyphs">Days after polyI:C injection</text>
<text x="29.50" y="506.18" font-size="13" font-weight="bold" font-family='"Liberation Sans","DejaVu Sans",sans-serif' fill="#000" stroke="#000" stroke-width="0.45">K</text>
<text transform="translate(51.47,640.70) rotate(-90)" font-size="10.5" textLength="122.00" lengthAdjust="spacingAndGlyphs">Normalized ratio of GFP+ cells</text>
<text x="57.10" y="540.60" font-size="10" textLength="13.20" lengthAdjust="spacingAndGlyphs">1.2</text>
<text x="61.20" y="556.20" font-size="10">1</text>
<text x="57.10" y="571.80" font-size="10" textLength="13.20" lengthAdjust="spacingAndGlyphs">0.8</text>
<text x="57.10" y="587.40" font-size="10" textLength="13.20" lengthAdjust="spacingAndGlyphs">0.6</text>
<text x="57.10" y="603.00" font-size="10" textLength="13.20" lengthAdjust="spacingAndGlyphs">0.4</text>
<text x="57.10" y="618.60" font-size="10" textLength="13.20" lengthAdjust="spacingAndGlyphs">0.2</text>
<text x="61.20" y="634.20" font-size="10">0</text>
<line x1="73.40" y1="536.00" x2="73.40" y2="632.20" stroke="#d2d2d2" stroke-width="1"/>
<line x1="73.40" y1="632.20" x2="202.00" y2="632.20" stroke="#d2d2d2" stroke-width="1"/>
<line x1="73.40" y1="553.60" x2="168.00" y2="553.60" stroke="#333" stroke-width="0.8" stroke-dasharray="2.2,1.6"/>
<polyline points="99.40,553.60 149.80,560.00 199.90,565.00" fill="none" stroke="#666" stroke-width="0.9"/>
<polyline points="99.40,553.60 149.80,557.50 199.90,563.50" fill="none" stroke="#333" stroke-width="0.9"/>
<polyline points="99.40,553.60 149.80,589.50 199.90,608.00" fill="none" stroke="#444" stroke-width="1"/>
<rect x="97.90" y="552.10" width="3.00" height="3.00" fill="#555"/>
<rect x="148.30" y="558.50" width="3.00" height="3.00" fill="#555"/>
<rect x="198.40" y="563.50" width="3.00" height="3.00" fill="#555"/>
<polygon points="99.40,551.60 97.40,555.20 101.40,555.20" fill="#222"/>
<polygon points="149.80,555.50 147.80,559.10 151.80,559.10" fill="#222"/>
<polygon points="199.90,561.50 197.90,565.10 201.90,565.10" fill="#222"/>
<circle cx="99.40" cy="553.60" r="2" fill="#4a4a4a"/>
<circle cx="149.80" cy="589.50" r="2" fill="#4a4a4a"/>
<circle cx="199.90" cy="608.00" r="2" fill="#4a4a4a"/>
<circle cx="99.40" cy="553.60" r="2.3" fill="#444"/>
<line x1="149.80" y1="556.00" x2="149.80" y2="562.50" stroke="#444" stroke-width="0.8"/>
<line x1="148.30" y1="556.00" x2="151.30" y2="556.00" stroke="#444" stroke-width="0.8"/>
<line x1="148.30" y1="562.50" x2="151.30" y2="562.50" stroke="#444" stroke-width="0.8"/>
<line x1="199.90" y1="561.50" x2="199.90" y2="567.00" stroke="#333" stroke-width="0.8"/>
<line x1="198.40" y1="561.50" x2="201.40" y2="561.50" stroke="#333" stroke-width="0.8"/>
<line x1="198.40" y1="567.00" x2="201.40" y2="567.00" stroke="#333" stroke-width="0.8"/>
<line x1="149.80" y1="587.00" x2="149.80" y2="592.00" stroke="#444" stroke-width="0.8"/>
<line x1="148.30" y1="587.00" x2="151.30" y2="587.00" stroke="#444" stroke-width="0.8"/>
<line x1="148.30" y1="592.00" x2="151.30" y2="592.00" stroke="#444" stroke-width="0.8"/>
<text x="167.50" y="554.00" font-size="10.5" textLength="49.00" lengthAdjust="spacingAndGlyphs">MSCV-GFP</text>
<text x="207.50" y="565.85" font-size="7" textLength="5.50" lengthAdjust="spacingAndGlyphs" fill="#888" stroke="#888">**</text>
<text x="207.50" y="571.05" font-size="7" textLength="5.50" lengthAdjust="spacingAndGlyphs" fill="#888" stroke="#888">**</text>
<line x1="82.50" y1="515.40" x2="94.00" y2="515.40" stroke="#666" stroke-width="1"/>
<rect x="86.70" y="513.90" width="3.00" height="3.00" fill="#666"/>
<text x="94.80" y="517.80" font-size="9" textLength="82.70" lengthAdjust="spacingAndGlyphs" font-style="italic">Tak1fx/fx Tnfr1-/-r2-/-</text>
<line x1="82.00" y1="531.70" x2="93.50" y2="531.70" stroke="#333" stroke-width="1"/>
<polygon points="87.70,529.70 85.70,533.30 89.70,533.30" fill="#222"/>
<text x="94.80" y="534.40" font-size="9" textLength="106.20" lengthAdjust="spacingAndGlyphs" font-style="italic">Tak1fx/fx Tnfr1-/-r2-/-Fas-/-</text>
<line x1="82.00" y1="546.80" x2="94.00" y2="546.80" stroke="#444" stroke-width="1"/>
<circle cx="88.00" cy="546.80" r="2" fill="#4a4a4a"/>
<text x="94.80" y="549.80" font-size="9" textLength="31.50" lengthAdjust="spacingAndGlyphs" font-style="italic">Tak1fx/fx</text>
<text x="101.60" y="642.30" font-size="10" text-anchor="middle">24</text>
<text x="152.50" y="642.30" font-size="10" text-anchor="middle">48</text>
<text x="203.90" y="642.30" font-size="10" text-anchor="middle">72</text>
<text x="100.20" y="652.30" font-size="10.5" textLength="82.70" lengthAdjust="spacingAndGlyphs">hours after infection</text>
<text x="250.50" y="506.38" font-size="13" font-weight="bold" font-family='"Liberation Sans","DejaVu Sans",sans-serif' fill="#000" stroke="#000" stroke-width="0.45">L</text>
<text transform="translate(262.63,632.50) rotate(-90)" font-size="11" textLength="115.70" lengthAdjust="spacingAndGlyphs">No. of CFUs/10,000 cells</text>
<text x="281.00" y="638.10" font-size="8.8" textLength="5.00" lengthAdjust="spacingAndGlyphs" font-family='"Liberation Sans","DejaVu Sans",sans-serif'>0</text>
<text x="275.80" y="624.32" font-size="8.8" textLength="10.20" lengthAdjust="spacingAndGlyphs" font-family='"Liberation Sans","DejaVu Sans",sans-serif'>20</text>
<text x="275.80" y="610.54" font-size="8.8" textLength="10.20" lengthAdjust="spacingAndGlyphs" font-family='"Liberation Sans","DejaVu Sans",sans-serif'>40</text>
<text x="275.80" y="596.76" font-size="8.8" textLength="10.20" lengthAdjust="spacingAndGlyphs" font-family='"Liberation Sans","DejaVu Sans",sans-serif'>60</text>
<text x="275.80" y="582.98" font-size="8.8" textLength="10.20" lengthAdjust="spacingAndGlyphs" font-family='"Liberation Sans","DejaVu Sans",sans-serif'>80</text>
<text x="270.50" y="569.20" font-size="8.8" textLength="15.50" lengthAdjust="spacingAndGlyphs" font-family='"Liberation Sans","DejaVu Sans",sans-serif'>100</text>
<text x="270.50" y="555.42" font-size="8.8" textLength="15.50" lengthAdjust="spacingAndGlyphs" font-family='"Liberation Sans","DejaVu Sans",sans-serif'>120</text>
<text x="270.50" y="541.64" font-size="8.8" textLength="15.50" lengthAdjust="spacingAndGlyphs" font-family='"Liberation Sans","DejaVu Sans",sans-serif'>140</text>
<text x="270.50" y="527.86" font-size="8.8" textLength="15.50" lengthAdjust="spacingAndGlyphs" font-family='"Liberation Sans","DejaVu Sans",sans-serif'>160</text>
<text x="270.50" y="514.08" font-size="8.8" textLength="15.50" lengthAdjust="spacingAndGlyphs" font-family='"Liberation Sans","DejaVu Sans",sans-serif'>180</text>
<line x1="294.60" y1="634.30" x2="407.00" y2="634.30" stroke="#dcdcdc" stroke-width="1"/>
<line x1="294.60" y1="510.00" x2="294.60" y2="634.30" stroke="#e6e6e6" stroke-width="1"/>
<rect x="306.40" y="526.70" width="16.70" height="107.20" fill="#161616"/>
<line x1="314.70" y1="522.70" x2="314.70" y2="526.70" stroke="#222" stroke-width="1"/>
<line x1="313.20" y1="522.70" x2="316.20" y2="522.70" stroke="#222" stroke-width="1"/>
<rect x="331.50" y="631.80" width="16.50" height="2.50" fill="#4a4a4a"/>
<line x1="339.80" y1="630.70" x2="339.80" y2="631.80" stroke="#333" stroke-width="1"/>
<line x1="338.80" y1="630.70" x2="340.80" y2="630.70" stroke="#333" stroke-width="1"/>
<rect x="356.80" y="604.80" width="15.30" height="28.50" fill="#fff" stroke="#111" stroke-width="1.2"/>
<line x1="364.40" y1="602.00" x2="364.40" y2="604.80" stroke="#222" stroke-width="1"/>
<line x1="363.20" y1="602.00" x2="365.60" y2="602.00" stroke="#222" stroke-width="1"/>
<rect x="381.40" y="600.60" width="15.20" height="32.70" fill="#8c8c8c" stroke="#111" stroke-width="1.4"/>
<line x1="389.00" y1="593.50" x2="389.00" y2="600.00" stroke="#222" stroke-width="1"/>
<line x1="387.80" y1="593.50" x2="390.20" y2="593.50" stroke="#222" stroke-width="1"/>
<line x1="383.20" y1="601.30" x2="383.20" y2="632.60" stroke="#fff" stroke-width="1.3"/>
<line x1="384.80" y1="601.30" x2="384.80" y2="632.60" stroke="#333" stroke-width="1"/>
<line x1="393.20" y1="601.30" x2="393.20" y2="632.60" stroke="#333" stroke-width="1"/>
<line x1="394.80" y1="601.30" x2="394.80" y2="632.60" stroke="#fff" stroke-width="1.3"/>
<line x1="387.50" y1="601.30" x2="387.50" y2="632.60" stroke="#777" stroke-width="0.7"/>
<line x1="389.00" y1="601.30" x2="389.00" y2="632.60" stroke="#999" stroke-width="0.7"/>
<line x1="390.50" y1="601.30" x2="390.50" y2="632.60" stroke="#777" stroke-width="0.7"/>
<text x="361.40" y="594.50" font-size="8" textLength="5.60" lengthAdjust="spacingAndGlyphs" fill="#777" stroke="#777">**</text>
<text x="386.00" y="589.10" font-size="8" textLength="5.60" lengthAdjust="spacingAndGlyphs" fill="#777" stroke="#777">**</text>
<rect x="331.20" y="506.20" width="12.20" height="8.60" fill="#161616"/>
<rect x="331.70" y="521.60" width="11.30" height="7.20" fill="#939393" stroke="#333" stroke-width="0.9"/>
<rect x="331.70" y="535.60" width="11.30" height="8.00" fill="#fff" stroke="#222" stroke-width="1"/>
<rect x="331.80" y="550.80" width="11.00" height="8.80" fill="#8c8c8c" stroke="#111" stroke-width="1.2"/>
<line x1="333.60" y1="551.50" x2="333.60" y2="558.90" stroke="#333" stroke-width="1"/>
<line x1="335.20" y1="551.50" x2="335.20" y2="558.90" stroke="#aaa" stroke-width="0.8"/>
<line x1="337.00" y1="551.50" x2="337.00" y2="558.90" stroke="#777" stroke-width="0.8"/>
<line x1="338.80" y1="551.50" x2="338.80" y2="558.90" stroke="#777" stroke-width="0.8"/>
<line x1="340.60" y1="551.50" x2="340.60" y2="558.90" stroke="#fff" stroke-width="1.2"/>
<text x="351.40" y="512.70" font-size="12.2" textLength="105.90" lengthAdjust="spacingAndGlyphs" font-style="italic">MSCV-GFP infection</text>
<text x="351.40" y="529.40" font-size="12.2" textLength="46.10" lengthAdjust="spacingAndGlyphs" font-style="italic">Tak1fx/fx</text>
<text x="351.40" y="544.20" font-size="12.2" textLength="114.80" lengthAdjust="spacingAndGlyphs" font-style="italic">Tak1fx/fx Tnfr1-/-r2-/-</text>
<text x="351.40" y="559.00" font-size="12.2" textLength="145.70" lengthAdjust="spacingAndGlyphs" font-style="italic">Tak1fx/fx Tnfr1-/-r2-/-Fas-/-</text>
</svg>
</body></html>
